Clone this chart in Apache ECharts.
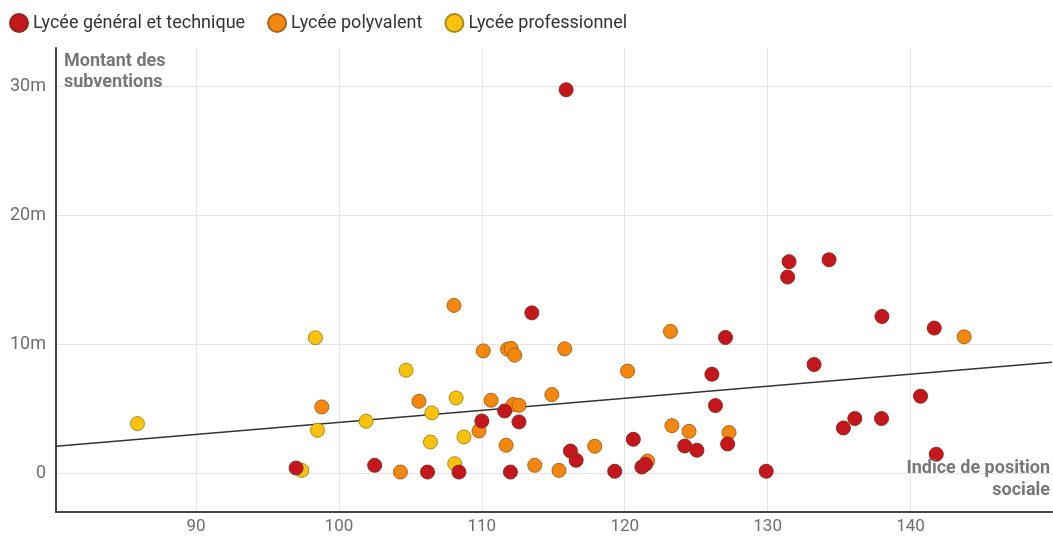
<!DOCTYPE html>
<html>
<head>
<meta charset="utf-8">
<script src="https://cdn.jsdelivr.net/npm/echarts@6/dist/echarts.min.js"></script>
<style>
  html, body { margin: 0; padding: 0; background: #fff; }
  #chart { width: 1053px; height: 538px; }
</style>
</head>
<body>
<div id="chart"></div>
<script>
// Lycée général et technique : [indice de position sociale, subventions (millions)]
const generalPoints = [
  [97.0, 0.41], [102.5, 0.62], [106.2, 0.1], [108.4, 0.1], [110.0, 4.06],
  [111.6, 4.84], [112.6, 3.99], [112.0, 0.1], [113.5, 12.45], [115.9, 29.76],
  [116.2, 1.73], [116.6, 1.01], [120.6, 2.64], [119.3, 0.16], [121.2, 0.49],
  [121.45, 0.7], [124.2, 2.12], [125.05, 1.79], [126.1, 7.69], [126.35, 5.26],
  [127.05, 10.54], [127.2, 2.28], [129.9, 0.16], [131.5, 16.42], [131.4, 15.23],
  [134.3, 16.57], [138.0, 12.17], [141.66, 11.27], [133.25, 8.44], [140.7, 5.98],
  [135.3, 3.52], [136.1, 4.25], [137.97, 4.25], [141.8, 1.48]
];

// Lycée polyvalent
const polyPoints = [
  [98.8, 5.15], [104.3, 0.1], [105.6, 5.59], [108.05, 13.03], [110.1, 9.5],
  [111.8, 9.63], [112.05, 9.69], [112.3, 9.17], [115.8, 9.66], [110.65, 5.67],
  [112.2, 5.34], [112.6, 5.28], [109.8, 3.29], [111.7, 2.18], [114.9, 6.11],
  [113.7, 0.62], [115.4, 0.23], [117.9, 2.1], [120.2, 7.93], [123.2, 11.01],
  [123.3, 3.7], [124.5, 3.26], [127.3, 3.16], [121.6, 0.96], [143.75, 10.59]
];

// Lycée professionnel
const proPoints = [
  [85.9, 3.86], [98.35, 10.52], [98.5, 3.34], [97.4, 0.23], [101.9, 4.04],
  [104.7, 8.0], [106.5, 4.69], [106.4, 2.43], [108.2, 5.85], [108.75, 2.82],
  [108.1, 0.75]
];

// droite de tendance (extrémités)
const trendLine = [[80.2, 2.1], [149.9, 8.62]];

const xTicks = [90, 100, 110, 120, 130, 140];
const yTicks = [0, 10, 20, 30];

const chart = echarts.init(document.getElementById('chart'), null, { renderer: 'canvas' });

const FONT = 'Roboto, "Noto Sans", sans-serif';
const dot = (color, border) => ({
  color: color,
  opacity: 1,
  borderColor: border,
  borderWidth: 1
});

const option = {
  animation: false,
  textStyle: { fontFamily: FONT },
  legend: {
    left: 9,
    top: 13,
    padding: 0,
    icon: 'circle',
    itemWidth: 18,
    itemHeight: 18,
    itemGap: 22,
    textStyle: { fontSize: 18, color: '#333', fontFamily: FONT },
    data: ['Lycée général et technique', 'Lycée polyvalent', 'Lycée professionnel']
  },
  grid: { left: 56, right: 1, top: 48, bottom: 26 },
  xAxis: {
    type: 'value',
    min: 80.2,
    max: 149.9,
    axisLine: { show: true, onZero: false, lineStyle: { color: '#444', width: 2 } },
    axisTick: { show: false, customValues: xTicks },
    axisLabel: { customValues: xTicks, color: '#6e6e6e', fontSize: 17, margin: 6, fontFamily: FONT },
    splitLine: { show: true, lineStyle: { color: '#e4e4e4', width: 1 } }
  },
  yAxis: {
    type: 'value',
    min: -3,
    max: 33,
    axisLine: { show: true, onZero: false, lineStyle: { color: '#444', width: 2 } },
    axisTick: { show: false, customValues: yTicks },
    axisLabel: {
      customValues: yTicks,
      color: '#6e6e6e',
      fontSize: 18,
      margin: 10,
      fontFamily: FONT,
      formatter: v => (v === 0 ? '0' : v + 'm')
    },
    splitLine: { show: true, lineStyle: { color: '#e4e4e4', width: 1 } }
  },
  graphic: [
    {
      type: 'text', left: 64, top: 51, z: 100,
      style: { text: 'Montant des\nsubventions', font: 'bold 18px ' + FONT, fill: '#777', lineHeight: 21 }
    },
    {
      type: 'text', right: 3, top: 459, z: 100,
      style: { text: 'Indice de position', font: 'bold 18px ' + FONT, fill: '#777' }
    },
    {
      type: 'text', right: 3, top: 481, z: 100,
      style: { text: 'sociale', font: 'bold 18px ' + FONT, fill: '#777' }
    }
  ],
  series: [
    {
      name: 'tendance',
      type: 'line',
      data: trendLine,
      showSymbol: false,
      silent: true,
      z: 1,
      lineStyle: { color: '#333', width: 1.3 }
    },
    {
      name: 'Lycée professionnel',
      type: 'scatter',
      data: proPoints,
      symbolSize: 14,
      z: 2,
      itemStyle: dot('#f8c20d', '#a88a1a')
    },
    {
      name: 'Lycée polyvalent',
      type: 'scatter',
      data: polyPoints,
      symbolSize: 14,
      z: 3,
      itemStyle: dot('#f5870e', '#a8651a')
    },
    {
      name: 'Lycée général et technique',
      type: 'scatter',
      data: generalPoints,
      symbolSize: 14,
      z: 4,
      itemStyle: dot('#c5161e', '#8a2a1a')
    }
  ]
};

chart.setOption(option);
</script>
</body>
</html>
